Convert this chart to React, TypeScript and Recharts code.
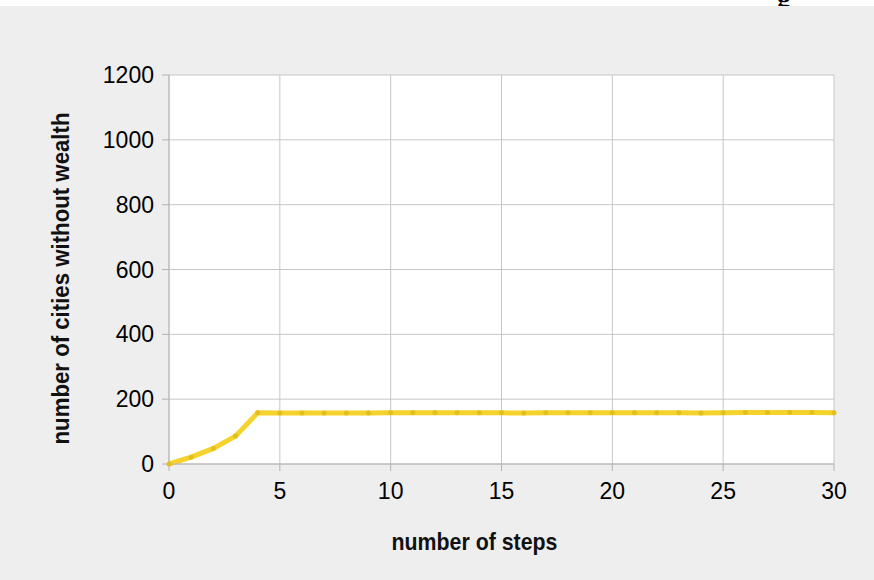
import { LineChart, Line, XAxis, YAxis, CartesianGrid } from 'recharts';

const steps = [0, 1, 2, 3, 4, 5, 6, 7, 8, 9, 10, 11, 12, 13, 14, 15, 16, 17, 18, 19, 20, 21, 22, 23, 24, 25, 26, 27, 28, 29, 30];
const citiesWithoutWealth = [0, 21, 48, 86, 158, 157, 157, 157, 157, 157, 158, 158, 158, 158, 158, 158, 157, 158, 158, 158, 158, 158, 158, 158, 157, 158, 159, 159, 159, 159, 158];
const xTicks = [0, 5, 10, 15, 20, 25, 30];
const yTicks = [0, 200, 400, 600, 800, 1000, 1200];

const data = steps.map((s, i) => ({ step: s, cities: citiesWithoutWealth[i] }));

const sans = 'Liberation Sans, Arial, Helvetica, sans-serif';
const tickStyle = { fill: '#000', fontSize: 23, fontFamily: sans };

// axis titles in the original are a condensed bold face, squeeze them to fit
const XTitle = ({ viewBox }: any) => (
  <text
    x={viewBox.x + viewBox.width / 2 - 27}
    y={viewBox.y + 86}
    textAnchor="middle"
    textLength={166}
    lengthAdjust="spacingAndGlyphs"
    style={{ fill: '#111', fontSize: 24, fontWeight: 'bold', fontFamily: sans }}
  >
    number of steps
  </text>
);

const YTitle = ({ viewBox }: any) => {
  const cx = 69;
  const cy = viewBox.y + viewBox.height / 2 + 9;
  return (
    <text
      x={cx}
      y={cy}
      transform={`rotate(-90, ${cx}, ${cy})`}
      textAnchor="middle"
      textLength={332}
      lengthAdjust="spacingAndGlyphs"
      style={{ fill: '#111', fontSize: 24, fontWeight: 'bold', fontFamily: sans }}
    >
      number of cities without wealth
    </text>
  );
};

export default function App() {
  return (
    <div style={{ position: 'fixed', left: 0, top: 0, width: 874, height: 580, background: '#fff', overflow: 'hidden' }}>
      <div
        style={{
          position: 'absolute', left: 777, top: -16, fontFamily: 'Liberation Serif, serif',
          fontWeight: 'bold', fontSize: 28, color: '#000', lineHeight: 1,
        }}
      >
        g
      </div>
      <div style={{ position: 'absolute', left: 0, top: 6, width: 874, height: 574, background: '#eeeeee' }} />
      <div style={{ position: 'absolute', left: 0, top: 0 }}>
        <LineChart width={874} height={580} data={data} margin={{ top: 75, right: 40, bottom: 0, left: 0 }}>
          <CartesianGrid stroke="#c6c6c6" fill="#ffffff" horizontalValues={yTicks} verticalValues={xTicks} />
          <XAxis
            dataKey="step"
            type="number"
            domain={[0, 30]}
            ticks={xTicks}
            height={116}
            tick={tickStyle}
            tickSize={7}
            tickMargin={12}
            stroke="#b4b4b4"
            label={<XTitle />}
          />
          <YAxis
            type="number"
            domain={[0, 1200]}
            ticks={yTicks}
            width={169}
            tick={tickStyle}
            tickSize={7}
            tickMargin={8}
            stroke="#b4b4b4"
            label={<YTitle />}
          />
          <Line
            dataKey="cities"
            stroke="#f5d22c"
            strokeWidth={5}
            dot={{ r: 2.5, fill: '#e3bf1e', stroke: 'none' }}
            isAnimationActive={false}
          />
        </LineChart>
      </div>
    </div>
  );
}
